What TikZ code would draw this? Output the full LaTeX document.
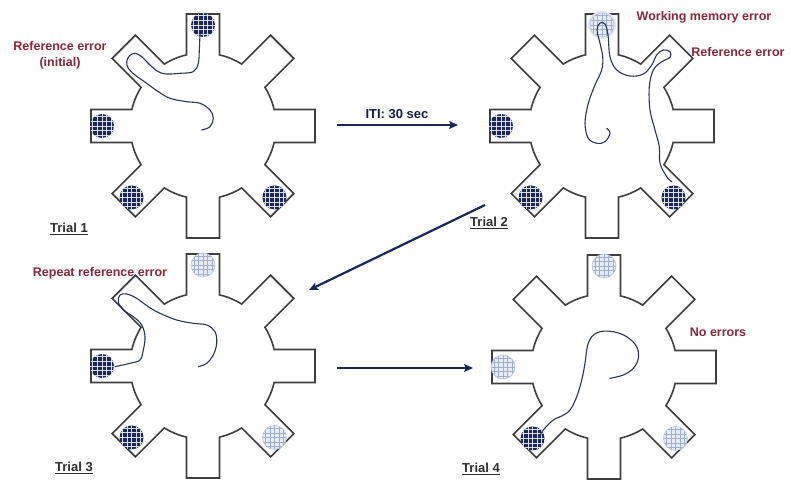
\documentclass[tikz,border=0pt]{standalone}
\usepackage{fontspec}
\setmainfont{Liberation Sans}
\usetikzlibrary{arrows.meta}

\definecolor{wall}{RGB}{62,62,62}
\definecolor{navy}{RGB}{27,39,90}
\definecolor{rat}{RGB}{44,52,86}
\definecolor{errred}{RGB}{138,38,58}
\definecolor{pale}{RGB}{230,235,245}
\definecolor{paleline}{RGB}{160,174,210}

\begin{document}
\begin{tikzpicture}[>={Stealth[length=9pt,width=8pt,inset=2pt]}, x=1pt, y=1pt,
	maze/.style={draw=wall, line width=1.6pt, line join=miter},
	track/.style={draw=rat, line width=1.1pt, line cap=round},
	errtext/.style={text=errred, font=\fontsize{12.5}{16}\selectfont\bfseries, align=center},
	trial/.style={text=black!82, font=\fontsize{13}{15}\selectfont\bfseries},
	trialarrow/.style={->, draw=navy, line width=2.2pt}]

\useasboundingbox (0,0) rectangle (791,485);

% eight-arm radial maze around the origin
\def\maze{
	\draw[maze] (-13.06:73) \foreach \a in {0,45,...,315} {
		-- (\a-13.06:73) -- (\a-8.38:113.2) -- (\a+8.38:113.2) -- (\a+13.06:73)
		arc[start angle=\a+13.06, end angle=\a+31.94, radius=73pt] } -- cycle;
}

% baited well (dark) and eaten well (pale) at the end of an arm
\def\darkwell#1{
	\begin{scope}[shift={(#1:101)}]
		\fill[navy] (0,0) circle (12pt);
		\clip (0,0) circle (12pt);
		\draw[white!85!navy, line width=0.7pt, step=4.6pt] (-13,-13) grid (13,13);
	\end{scope}
}
\def\palewell#1{
	\begin{scope}[shift={(#1:101)}]
		\fill[pale] (0,0) circle (12pt);
		\begin{scope}
			\clip (0,0) circle (12pt);
			\draw[paleline, line width=0.6pt, step=4.6pt] (-13,-13) grid (13,13);
		\end{scope}
		\draw[paleline!70, line width=0.6pt] (0,0) circle (12pt);
	\end{scope}
}

\coordinate (m1) at (203,359);
\coordinate (m2) at (602,359);
\coordinate (m3) at (203,119);
\coordinate (m4) at (604,118);

% Trial 1
\begin{scope}[shift={(m1)}]
\maze
\darkwell{90} \darkwell{180} \darkwell{225} \darkwell{315}
\draw[track] plot[smooth, tension=0.6] coordinates {
	(-3,92) (-3.7,76) (-4.7,62.7) (-9.7,54.3) (-23,52.7) (-36.3,52) (-44.7,54.3)
	(-53,61) (-61.3,69.3) (-68,72.7) (-73.7,70) (-76.3,64.3) (-74.7,57.7) (-68,51)
	(-56.3,42.7) (-44.7,34.3) (-33,27.7) (-16.3,24.3) (-3,22.7) (7,16) (10.3,7.7)
	(7,-0.7) (-1.3,-4)};
\end{scope}

% Trial 2
\begin{scope}[shift={(m2)}]
\maze
\fill[paleline!30] (90:101) circle (14pt);
\palewell{90} \darkwell{180} \darkwell{225} \darkwell{315}
\draw[track] plot[smooth, tension=0.6] coordinates {
	(4.7,-2.3) (8,-7.3) (3,-15.7) (-5.3,-17.3) (-13.7,-12.3) (-17,2.7) (-13.7,22.7)
	(-7,41) (-0.3,56) (0.7,69.3) (-2,82.7) (-5,96) (-2,103) (3,102) (6,91) (8,69.3)
	(14.7,56) (28,50) (41.3,52) (49.7,61) (54.7,71) (61.3,76) (68,74.3) (68,68.7)
	(59.7,64.3) (51.3,56) (47.3,39.3) (48,16) (53,-4) (57.3,-20.7) (58,-37.3)
	(64.7,-50.7) (70,-56)};
\end{scope}

% Trial 3
\begin{scope}[shift={(m3)}]
\maze
\palewell{90} \darkwell{180} \darkwell{225} \palewell{315}
\draw[track] plot[smooth, tension=0.6] coordinates {
	(-88,-0.7) (-73,2.7) (-63,6) (-59.7,16) (-58,29.3) (-61.3,41) (-69.7,49.3)
	(-79.7,56) (-84.7,64.3) (-83,71) (-76.3,72) (-66.3,67.7) (-54.7,59.3) (-43,52.7)
	(-26.3,46) (-9.7,42.7) (3.7,41) (12,34.3) (13.7,22.7) (10.3,11) (3.7,2.7)
	(-4.7,-0.7)};
\end{scope}

% Trial 4
\begin{scope}[shift={(m4)}]
\maze
\palewell{90} \palewell{180} \darkwell{225} \palewell{315}
\draw[track] plot[smooth, tension=0.6] coordinates {
	(-64,-69.7) (-60.7,-63) (-50.7,-53) (-42.3,-49) (-34,-43) (-27.3,-29.7)
	(-22.3,-13) (-19,3.7) (-16.7,20.3) (-12.3,30.3) (-4,35.3) (9.3,35.3) (22.7,30.3)
	(32.7,20.3) (34.3,8.7) (29.3,-1.3) (19.3,-8) (6,-11.3)};
\end{scope}

% arrows between trials
\coordinate (a1s) at (337,360);
\coordinate (a1e) at (458,360);
\coordinate (a2s) at (485,280);
\coordinate (a2e) at (309,195);
\coordinate (a3s) at (337,117);
\coordinate (a3e) at (473,117);

\draw[trialarrow] (a1s) -- (a1e);
\draw[trialarrow] (a2s) -- (a2e);
\draw[trialarrow] (a3s) -- (a3e);

\node[trial, text=navy!70!black] (iti) at (397,371) {ITI: 30 sec};

% labels
\node[errtext] (err1) at (60,430) {Reference error\\(initial)};
\node[errtext] (wm2) at (704,468) {Working memory error};
\node[errtext] (err2) at (738,433) {Reference error};
\node[errtext] (err3) at (100,212) {Repeat reference error};
\node[errtext] (none4) at (718,153) {No errors};

\node[trial] (t1) at (69,256) {\underline{Trial 1}};
\node[trial] (t2) at (489,262) {\underline{Trial 2}};
\node[trial] (t3) at (74,17) {\underline{Trial 3}};
\node[trial] (t4) at (481,16) {\underline{Trial 4}};

\end{tikzpicture}
\end{document}
